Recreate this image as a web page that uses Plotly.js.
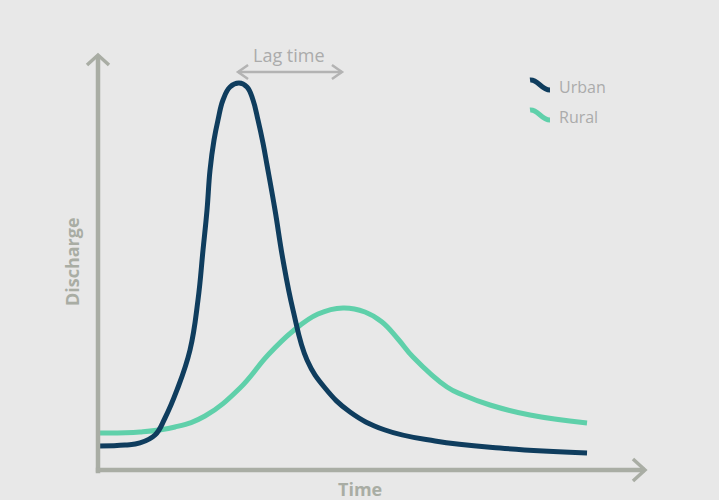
<!DOCTYPE html>
<html>
<head>
<meta charset="utf-8">
<script src="https://cdn.plot.ly/plotly-3.0.1.min.js"></script>
<style>html,body{margin:0;padding:0;background:#e8e8e8;}#chart{width:719px;height:500px;}</style>
</head>
<body>
<div id="chart"></div>
<script>
// Time (arbitrary units) and discharge (arbitrary units)
const urbanTime = [0.18, 4.94, 7.68, 10.42, 12.25, 14.44, 16.82, 18.28, 19.20, 19.93, 20.48, 21.21, 21.94, 22.85, 24.13, 25.78, 27.24, 28.34, 29.25, 30.16, 30.90, 32.36, 33.82, 35.65, 38.21, 41.50, 46.07, 52.47, 61.61, 73.49, 89.40];
const urbanDischarge = [5.78, 6.02, 6.51, 8.43, 12.53, 19.28, 28.92, 40.96, 53.01, 62.65, 72.29, 79.52, 84.34, 89.16, 92.29, 93.25, 92.29, 89.16, 84.34, 78.80, 73.49, 62.65, 50.60, 38.55, 26.51, 19.76, 13.98, 9.64, 6.99, 5.30, 4.10];
const ruralTime = [0.18, 7.68, 14.08, 19.56, 25.96, 31.08, 35.65, 40.22, 44.79, 48.81, 51.92, 54.84, 57.59, 63.80, 66.73, 71.66, 78.98, 89.40];
const ruralDischarge = [8.92, 9.16, 10.36, 13.01, 19.76, 27.71, 33.49, 37.59, 39.04, 38.07, 35.66, 31.57, 27.23, 20.00, 18.07, 15.66, 13.25, 11.33];
const seriesNames = ["Urban", "Rural"];
const xTitle = "Time";
const yTitle = "Discharge";
const lagLabel = "Lag time";

const urbanColor = "#0f3d5e";
const ruralColor = "#5fd0aa";
const axisColor = "#a9ada4";
const textGray = "#ababab";
const FONT = "Open Sans, Noto Sans, sans-serif";

const traces = [
  {x: urbanTime, y: urbanDischarge, name: seriesNames[0], mode: "lines",
   line: {color: urbanColor, width: 5, shape: "spline", smoothing: 1.2}, cliponaxis: false, hoverinfo: "skip"},
  {x: ruralTime, y: ruralDischarge, name: seriesNames[1], mode: "lines",
   line: {color: ruralColor, width: 5, shape: "spline", smoothing: 1.2}, cliponaxis: false, hoverinfo: "skip"}
];
const data = [traces[1], traces[0]];

const P = {xref: "paper", yref: "paper"};
const shapes = [
  Object.assign({type: "line", x0: 0, y0: -0.008, x1: 0, y1: 1.0, line: {color: axisColor, width: 4.5}}, P),
  Object.assign({type: "line", x0: -0.004, y0: 0, x1: 1.0, y1: 0, line: {color: axisColor, width: 4.5}}, P),
  Object.assign({type: "path", path: "M -0.0201,0.976 L 0,1.0 L 0.0201,0.976", line: {color: axisColor, width: 3.5}}, P),
  Object.assign({type: "path", path: "M 0.978,0.0265 L 1.0,0 L 0.978,-0.0265", line: {color: axisColor, width: 3.5}}, P),
  Object.assign({type: "line", x0: 0.256, y0: 0.959, x1: 0.446, y1: 0.959, line: {color: "#b3b3b3", width: 2.5}}, P),
  Object.assign({type: "path", path: "M 0.2743,0.9759 L 0.256,0.959 L 0.2743,0.9421", line: {color: "#b3b3b3", width: 2.5}}, P),
  Object.assign({type: "path", path: "M 0.4277,0.9759 L 0.446,0.959 L 0.4277,0.9421", line: {color: "#b3b3b3", width: 2.5}}, P),
  Object.assign({type: "path", path: "M 0.7898,0.9398 C 0.8044,0.9422 0.8099,0.9157 0.8263,0.9157", line: {color: urbanColor, width: 5}}, P),
  Object.assign({type: "path", path: "M 0.7898,0.8675 C 0.8044,0.8699 0.8099,0.8434 0.8263,0.8434", line: {color: ruralColor, width: 5}}, P)
];

const annotations = [
  Object.assign({x: 0.349, y: 1.0, text: lagLabel, showarrow: false, xanchor: "center", yanchor: "middle",
    font: {family: FONT, size: 18, color: textGray}}, P),
  Object.assign({x: 0.8391, y: 0.9229, text: seriesNames[0], showarrow: false, xanchor: "left", yanchor: "middle",
    font: {family: FONT, size: 16, color: textGray}}, P),
  Object.assign({x: 0.8391, y: 0.8506, text: seriesNames[1], showarrow: false, xanchor: "left", yanchor: "middle",
    font: {family: FONT, size: 16, color: textGray}}, P),
  Object.assign({x: -0.0475, y: 0.501, text: "<b>" + yTitle + "</b>", showarrow: false, textangle: -90,
    xanchor: "center", yanchor: "middle", font: {family: FONT, size: 18, color: axisColor}}, P),
  Object.assign({x: 0.479, y: -0.0458, text: "<b>" + xTitle + "</b>", showarrow: false,
    xanchor: "center", yanchor: "middle", font: {family: FONT, size: 18, color: axisColor}}, P)
];

const layout = {
  width: 719, height: 500,
  margin: {l: 98, r: 74, t: 55, b: 30, pad: 0},
  paper_bgcolor: "#e8e8e8", plot_bgcolor: "#e8e8e8",
  showlegend: false,
  xaxis: {range: [0, 100], visible: false, fixedrange: true},
  yaxis: {range: [0, 100], visible: false, fixedrange: true},
  shapes: shapes,
  annotations: annotations
};

Plotly.newPlot("chart", data, layout, {displayModeBar: false, staticPlot: true});
</script>
</body>
</html>
